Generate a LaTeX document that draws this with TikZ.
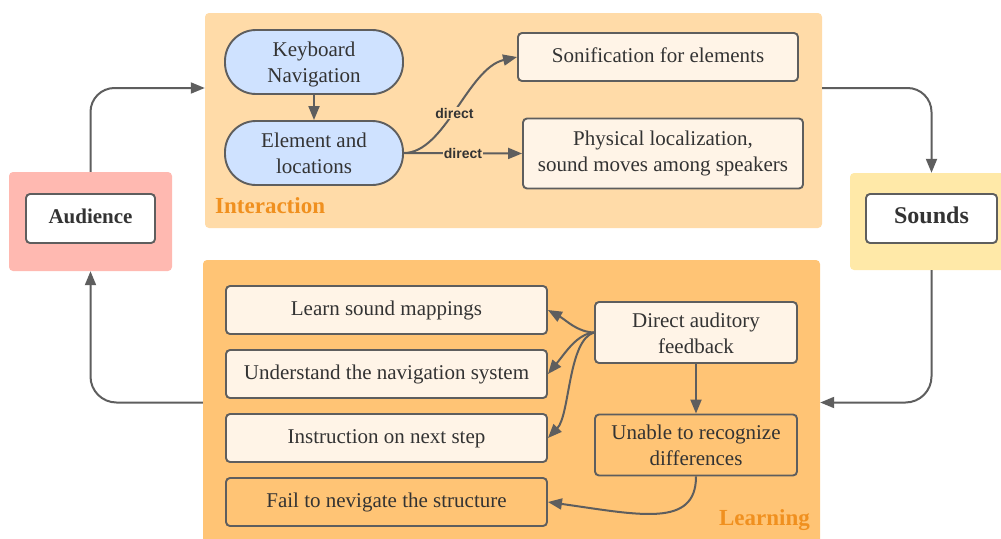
\documentclass[tikz,border=0pt]{standalone}
\usepackage{fontspec}
\setmainfont{Liberation Serif}
\newfontfamily\labelsans{Liberation Sans}
\usetikzlibrary{arrows.meta}
\definecolor{linec}{HTML}{5E5E5E}
\definecolor{textc}{HTML}{333333}
\definecolor{interc}{HTML}{FFDBA8}
\definecolor{learnc}{HTML}{FFC475}
\definecolor{audc}{HTML}{FFB9B1}
\definecolor{sndc}{HTML}{FFE9A8}
\definecolor{boxc}{HTML}{FFF4E7}
\definecolor{bluec}{HTML}{CFE2FF}
\definecolor{orangec}{HTML}{F0901F}
\tikzset{
  panel/.style={draw=none, rounded corners=4pt, inner sep=0pt},
  mainbox/.style={draw=linec, line width=1.9pt, rounded corners=4pt, fill=boxc, text=textc,
    align=center, inner sep=0pt, font=\fontsize{21}{26}\selectfont},
  oneline/.style={text height=15pt, text depth=5pt},
  twolines/.style={text height=41pt, text depth=-1pt},
  pill/.style={mainbox, twolines, fill=bluec, rounded corners=31pt, minimum width=178pt, minimum height=64pt},
  conn/.style={draw=linec, line width=2pt, -{Triangle[length=14pt,width=11pt]}},
  lbl/.style={fill=interc, inner sep=1pt, text=textc, font=\labelsans\bfseries\fontsize{14}{16}\selectfont},
  paneltitle/.style={text=orangec, font=\bfseries\fontsize{23}{26}\selectfont, inner sep=0pt}
}
\begin{document}
\begin{tikzpicture}[x=1pt,y=-1pt]
\useasboundingbox (0,0) rectangle (1001,538);
% panels
\node[panel, fill=interc, minimum width=617pt, minimum height=215pt] (inter) at (513.5,120.5) {};
\node[panel, fill=learnc, minimum width=617pt, minimum height=285pt] (lrn) at (511.5,402.5) {};
\node[panel, fill=audc, minimum width=163pt, minimum height=99pt] (audp) at (90.5,221.5) {};
\node[panel, fill=sndc, minimum width=163pt, minimum height=97pt] (sndp) at (931.5,221.5) {};
% audience / sounds
\node[mainbox, oneline, fill=white, minimum width=129pt, minimum height=49pt, font=\bfseries\fontsize{21}{26}\selectfont] (aud) at (90.5,218.5) {Audience};
\node[mainbox, oneline, fill=white, minimum width=131pt, minimum height=49pt, font=\bfseries\fontsize{24}{28}\selectfont] (snd) at (931.5,218.5) {Sounds};
% interaction
\node[pill] (kb) at (314,62) {Keyboard\\Navigation};
\node[pill] (el) at (314,153) {Element and\\locations};
\node[mainbox, oneline, minimum width=280pt, minimum height=48pt] (son) at (658,57) {Sonification for elements};
\node[mainbox, twolines, text depth=5pt, minimum width=280pt, minimum height=70pt] (phy) at (663,153.5) {Physical localization,\\sound moves among speakers};
\node[paneltitle, anchor=west] (tinter) at (215,206) {Interaction};
% learning
\node[mainbox, oneline, minimum width=321pt, minimum height=48pt] (learn) at (386.5,310) {Learn sound mappings};
\node[mainbox, oneline, minimum width=321pt, minimum height=48pt] (und) at (386.5,374) {Understand the navigation system};
\node[mainbox, oneline, minimum width=321pt, minimum height=48pt] (ins) at (386.5,438) {Instruction on next step};
\node[mainbox, oneline, fill=learnc, minimum width=321pt, minimum height=48pt] (fail) at (386.5,502) {Fail to nevigate the structure};
\node[mainbox, twolines, text depth=-9pt, minimum width=202pt, minimum height=61pt] (daf) at (696,332.5) {Direct auditory\\feedback};
\node[mainbox, twolines, text depth=-9pt, fill=learnc, minimum width=202pt, minimum height=61pt] (una) at (696,445) {Unable to recognize\\differences};
\node[paneltitle, anchor=east] (tlearn) at (810,520) {Learning};
% outer cycle
\draw[conn, rounded corners=24pt] (audp.north) |- ([yshift=32.5pt]inter.west);
\draw[conn, rounded corners=24pt] ([yshift=32.5pt]inter.east) -| (sndp.north);
\draw[conn, rounded corners=26pt] (sndp.south) |- (lrn.east);
\draw[conn, rounded corners=26pt] (lrn.west) -| (audp.south);
% interaction connectors
\draw[conn] (kb) -- (el);
\draw[conn] (el.east) .. controls (445,153) and (468,68) .. node[lbl, pos=0.47] {direct} (son.west);
\draw[conn] (el.east) -- node[lbl, pos=0.5] {direct} (phy.west);
% learning connectors
\draw[conn] (daf.west) .. controls (577,332) and (566,320) .. (learn.east);
\draw[conn] (daf.west) .. controls (577,334) and (566,352) .. (und.east);
\draw[conn] (daf.west) .. controls (568,340) and (570,415) .. (ins.east);
\draw[conn] (daf) -- (una);
\draw[conn] (una.south) .. controls (696,528) and (640,515) .. (fail.east);
\end{tikzpicture}
\end{document}
